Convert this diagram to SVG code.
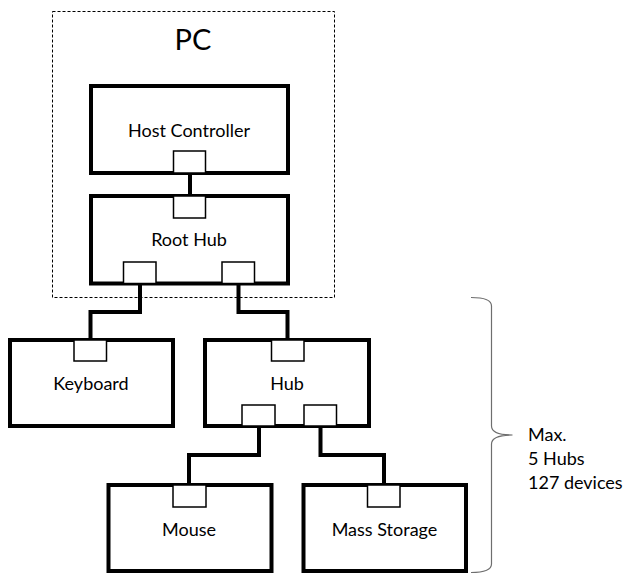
<svg xmlns="http://www.w3.org/2000/svg" width="624" height="574" viewBox="0 0 624 574">
<style>
.box{fill:#fff;stroke:#000;stroke-width:4}
.port{fill:#fff;stroke:#000;stroke-width:1.5}
.wire{fill:none;stroke:#000;stroke-width:4;stroke-linejoin:miter}
.lbl{font-family:Lato,"Open Sans","Liberation Sans",sans-serif;font-size:18px;fill:#000;text-anchor:middle}
.note{font-family:Lato,"Open Sans","Liberation Sans",sans-serif;font-size:18px;fill:#000}
</style>
<rect id="pc-frame" x="52.5" y="11.5" width="282" height="286" fill="none" stroke="#000" stroke-width="1" stroke-dasharray="3,2"/>
<text x="193" y="50" class="lbl" style="font-size:29px">PC</text>
<g id="connectors">
<path class="wire" d="M190 173V196"/>
<path class="wire" d="M140 283.5V312H90.5V340"/>
<path class="wire" d="M238.5 283.5V312H287.5V340"/>
<path class="wire" d="M259 426V455H189V485"/>
<path class="wire" d="M320.5 426V455H384V485"/>
</g>
<g id="host-controller">
<rect class="box" x="91" y="86" width="197" height="87"/>
<rect class="port" x="173.5" y="151" width="32" height="22"/>
<text x="189" y="137" class="lbl">Host Controller</text>
</g>
<g id="root-hub">
<rect class="box" x="91" y="196" width="197" height="87.5"/>
<rect class="port" x="173.5" y="196" width="32" height="22"/>
<rect class="port" x="123.5" y="262" width="32.5" height="21.5"/>
<rect class="port" x="222" y="262" width="32.5" height="21.5"/>
<text x="189" y="246" class="lbl">Root Hub</text>
</g>
<g id="keyboard">
<rect class="box" x="10" y="340" width="163" height="86"/>
<rect class="port" x="74" y="340" width="32.5" height="21"/>
<text x="91" y="390" class="lbl">Keyboard</text>
</g>
<g id="hub">
<rect class="box" x="205" y="340" width="164" height="86"/>
<rect class="port" x="271.5" y="340" width="32.5" height="21"/>
<rect class="port" x="242" y="405" width="33" height="21"/>
<rect class="port" x="304" y="405" width="32.5" height="21"/>
<text x="287" y="390" class="lbl">Hub</text>
</g>
<g id="mouse">
<rect class="box" x="108.5" y="485" width="163" height="86"/>
<rect class="port" x="173" y="485" width="33" height="22"/>
<text x="189" y="536" class="lbl">Mouse</text>
</g>
<g id="mass-storage">
<rect class="box" x="303.5" y="485" width="162.5" height="86"/>
<rect class="port" x="367.5" y="485" width="32.5" height="22"/>
<text x="384.5" y="536" class="lbl">Mass Storage</text>
</g>
<g id="limit-note">
<path d="M471 297.5Q491.5 297.5 491.5 306V426Q491.5 435 512.5 435Q491.5 435 491.5 444V564Q491.5 572.5 471 572.5" fill="none" stroke="#6e6e6e" stroke-width="1.2"/>
<text class="note" x="528" y="441">Max.</text>
<text class="note" x="528" y="465">5 Hubs</text>
<text class="note" x="528" y="489">127 devices</text>
</g>
</svg>
